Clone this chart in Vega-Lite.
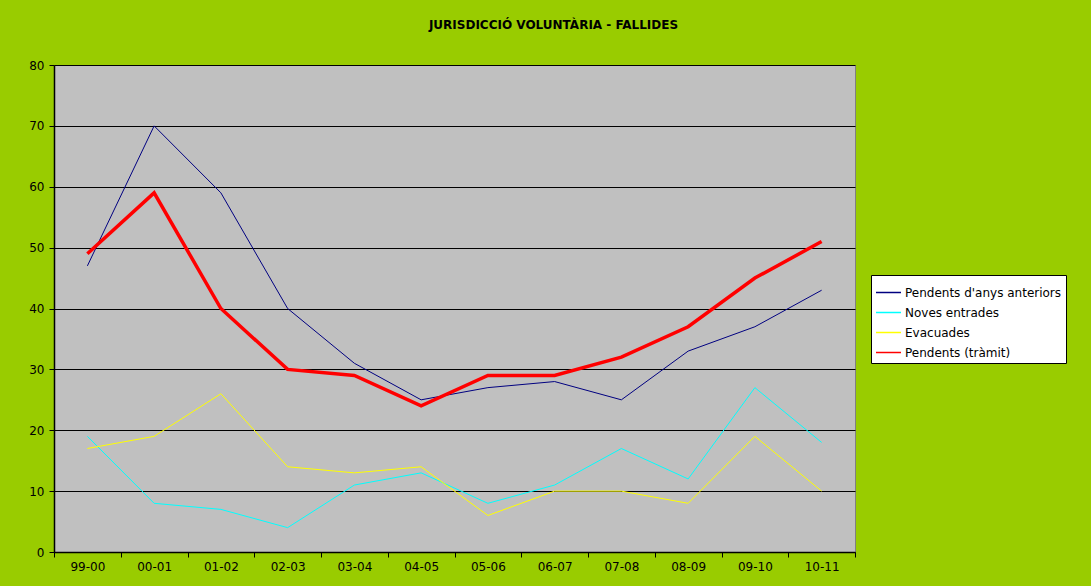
{
  "$schema": "https://vega.github.io/schema/vega-lite/v6.json",
  "width": 801,
  "height": 487,
  "autosize": {"type": "none"},
  "padding": {"left": 54, "top": 65, "right": 236, "bottom": 34},
  "background": "#99CC00",
  "title": {
    "text": "JURISDICCIÓ VOLUNTÀRIA - FALLIDES",
    "font": "DejaVu Sans",
    "fontSize": 12,
    "fontWeight": "bold",
    "color": "#000000",
    "anchor": "middle",
    "dx": 99,
    "offset": 27
  },
  "data": {
    "values": [
      {"periode": "99-00", "serie": "Pendents d'anys anteriors", "valor": 47},
      {"periode": "00-01", "serie": "Pendents d'anys anteriors", "valor": 70},
      {"periode": "01-02", "serie": "Pendents d'anys anteriors", "valor": 59},
      {"periode": "02-03", "serie": "Pendents d'anys anteriors", "valor": 40},
      {"periode": "03-04", "serie": "Pendents d'anys anteriors", "valor": 31},
      {"periode": "04-05", "serie": "Pendents d'anys anteriors", "valor": 25},
      {"periode": "05-06", "serie": "Pendents d'anys anteriors", "valor": 27},
      {"periode": "06-07", "serie": "Pendents d'anys anteriors", "valor": 28},
      {"periode": "07-08", "serie": "Pendents d'anys anteriors", "valor": 25},
      {"periode": "08-09", "serie": "Pendents d'anys anteriors", "valor": 33},
      {"periode": "09-10", "serie": "Pendents d'anys anteriors", "valor": 37},
      {"periode": "10-11", "serie": "Pendents d'anys anteriors", "valor": 43},
      {"periode": "99-00", "serie": "Noves entrades", "valor": 19},
      {"periode": "00-01", "serie": "Noves entrades", "valor": 8},
      {"periode": "01-02", "serie": "Noves entrades", "valor": 7},
      {"periode": "02-03", "serie": "Noves entrades", "valor": 4},
      {"periode": "03-04", "serie": "Noves entrades", "valor": 11},
      {"periode": "04-05", "serie": "Noves entrades", "valor": 13},
      {"periode": "05-06", "serie": "Noves entrades", "valor": 8},
      {"periode": "06-07", "serie": "Noves entrades", "valor": 11},
      {"periode": "07-08", "serie": "Noves entrades", "valor": 17},
      {"periode": "08-09", "serie": "Noves entrades", "valor": 12},
      {"periode": "09-10", "serie": "Noves entrades", "valor": 27},
      {"periode": "10-11", "serie": "Noves entrades", "valor": 18},
      {"periode": "99-00", "serie": "Evacuades", "valor": 17},
      {"periode": "00-01", "serie": "Evacuades", "valor": 19},
      {"periode": "01-02", "serie": "Evacuades", "valor": 26},
      {"periode": "02-03", "serie": "Evacuades", "valor": 14},
      {"periode": "03-04", "serie": "Evacuades", "valor": 13},
      {"periode": "04-05", "serie": "Evacuades", "valor": 14},
      {"periode": "05-06", "serie": "Evacuades", "valor": 6},
      {"periode": "06-07", "serie": "Evacuades", "valor": 10},
      {"periode": "07-08", "serie": "Evacuades", "valor": 10},
      {"periode": "08-09", "serie": "Evacuades", "valor": 8},
      {"periode": "09-10", "serie": "Evacuades", "valor": 19},
      {"periode": "10-11", "serie": "Evacuades", "valor": 10},
      {"periode": "99-00", "serie": "Pendents (tràmit)", "valor": 49},
      {"periode": "00-01", "serie": "Pendents (tràmit)", "valor": 59},
      {"periode": "01-02", "serie": "Pendents (tràmit)", "valor": 40},
      {"periode": "02-03", "serie": "Pendents (tràmit)", "valor": 30},
      {"periode": "03-04", "serie": "Pendents (tràmit)", "valor": 29},
      {"periode": "04-05", "serie": "Pendents (tràmit)", "valor": 24},
      {"periode": "05-06", "serie": "Pendents (tràmit)", "valor": 29},
      {"periode": "06-07", "serie": "Pendents (tràmit)", "valor": 29},
      {"periode": "07-08", "serie": "Pendents (tràmit)", "valor": 32},
      {"periode": "08-09", "serie": "Pendents (tràmit)", "valor": 37},
      {"periode": "09-10", "serie": "Pendents (tràmit)", "valor": 45},
      {"periode": "10-11", "serie": "Pendents (tràmit)", "valor": 51}
    ]
  },
  "mark": {"type": "line"},
  "encoding": {
    "x": {
      "field": "periode",
      "type": "ordinal",
      "sort": null,
      "bandPosition": 0.5,
      "scale": {"type": "band", "paddingInner": 0, "paddingOuter": 0},
      "axis": {
        "title": null,
        "labelAngle": 0,
        "tickBand": "extent",
        "grid": false,
        "ticks": true,
        "tickSize": 5,
        "tickColor": "#000000",
        "domainColor": "#000000",
        "domainWidth": 1.5,
        "labelFont": "DejaVu Sans",
        "labelFontSize": 12,
        "labelColor": "#000000",
        "labelPadding": 4
      }
    },
    "y": {
      "field": "valor",
      "type": "quantitative",
      "scale": {"domain": [0, 80], "nice": false},
      "axis": {
        "title": null,
        "values": [0, 10, 20, 30, 40, 50, 60, 70, 80],
        "grid": true,
        "gridColor": "#000000",
        "gridWidth": 1,
        "gridOpacity": 1,
        "tickSize": 5,
        "tickColor": "#000000",
        "domainColor": "#000000",
        "domainWidth": 1.5,
        "labelFont": "DejaVu Sans",
        "labelFontSize": 12,
        "labelColor": "#000000",
        "labelPadding": 5
      }
    },
    "color": {
      "field": "serie",
      "type": "nominal",
      "scale": {
        "domain": ["Pendents d'anys anteriors", "Noves entrades", "Evacuades", "Pendents (tràmit)"],
        "range": ["#000080", "#00FFFF", "#FFFF00", "#FF0000"]
      },
      "legend": {"title": null}
    },
    "strokeWidth": {
      "condition": {"test": "datum.serie === 'Pendents (tràmit)'", "value": 3.5},
      "value": 1
    }
  },
  "config": {
    "view": {"fill": "#C0C0C0", "stroke": "#808080", "strokeWidth": 1},
    "legend": {
      "orient": "none",
      "legendX": 817,
      "legendY": 210,
      "fillColor": "#FFFFFF",
      "strokeColor": "#000000",
      "padding": 4,
      "symbolType": "stroke",
      "symbolSize": 625,
      "symbolStrokeWidth": 1.5,
      "rowPadding": 0,
      "labelFont": "DejaVu Sans",
      "labelFontSize": 12,
      "labelColor": "#000000",
      "labelOffset": 3,
      "labelLimit": 300
    }
  }
}
